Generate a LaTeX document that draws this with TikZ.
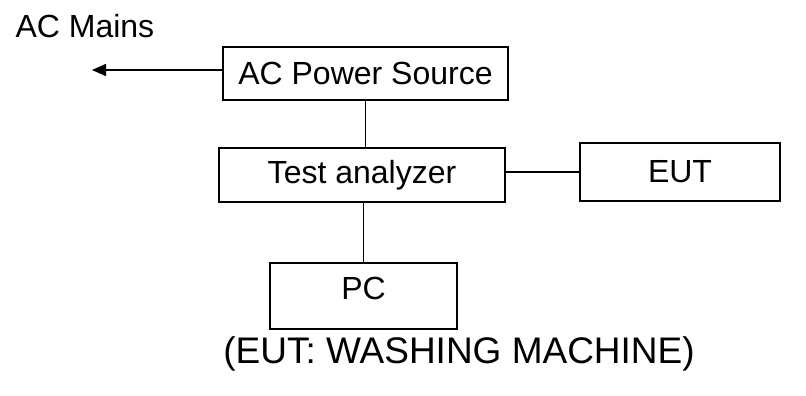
\documentclass[tikz,border=0pt]{standalone}
\usepackage{fontspec}
\setmainfont{Liberation Sans}
\usetikzlibrary{arrows.meta}
\begin{document}
\begin{tikzpicture}[x=1pt,y=-1pt,
  lbl/.style={font=\fontsize{32}{38}\selectfont},
  blk/.style={draw=black, line width=1.2pt, inner sep=0pt, lbl},
  wire/.style={draw=black, line width=1.1pt}]
\useasboundingbox (0,0) rectangle (806,396);
\node[lbl, anchor=base west] (mains) at (12,38) {AC Mains};
\node[blk, minimum width=285pt, minimum height=53pt] (acps) at (365.5,73.5) {AC Power Source};
\node[blk, minimum width=286pt, minimum height=54pt] (ta) at (362,175) {Test analyzer};
\node[blk, minimum width=200pt, minimum height=58pt] (eut) at (680,172) {EUT};
\node[blk, minimum width=187pt, minimum height=66pt, text depth=16pt] (pc) at (363.5,296) {PC};
\node[font=\fontsize{37}{44}\selectfont] (cap) at (459,354) {(EUT: WASHING MACHINE)};
\coordinate (tip) at (92,70);
\draw[wire, line width=1.5pt, -{Triangle[length=14pt,width=12pt]}] (acps.west |- tip) -- (tip);
\draw[wire, line width=1.5pt] (acps.south) -- (acps.south |- ta.north);
\draw[wire] (eut.west) -- (eut.west -| ta.east);
\draw[wire] (pc.north) -- (pc.north |- ta.south);
\end{tikzpicture}
\end{document}
